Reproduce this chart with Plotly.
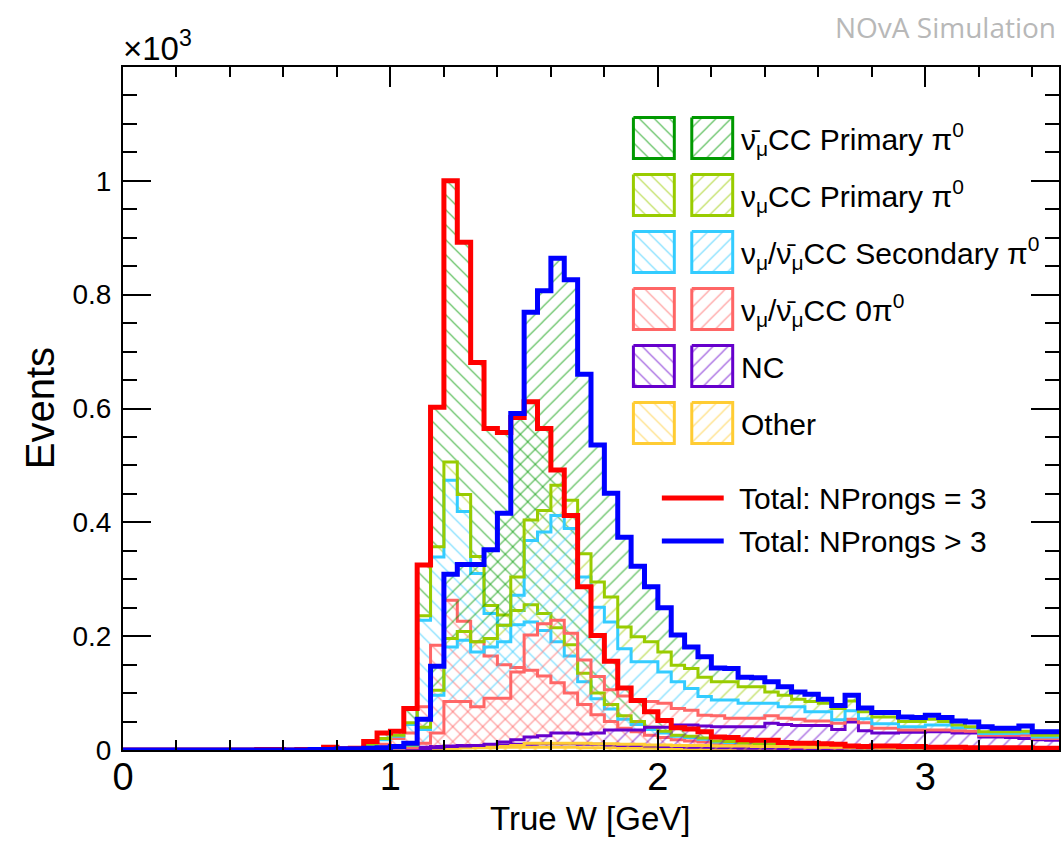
import numpy as np
import plotly.graph_objects as go

# ---------------- data: events per 0.05 GeV bin of true W (0 - 3.5 GeV) ----------------
bin_edges = np.linspace(0.0, 3.5, 71)

# ---- NProngs = 3 sample (drawn with "\\" hatching) ----
other3 = [0]*10 + [0,0,0,0,0,0,0,0,0,1] + [1,2,2,3,3,4,4,4,5,5] + [5,5,5,5,4,4,4,3,3,3] + \
         [3,2,2,2,2,2,1,1,1,1] + [1,1,1,1,1,0,0,0,0,0] + [0]*10
nc3 = [0]*10 + [0,0,0,0,0,1,0,1,1,1] + [2,2,3,3,4,4,4,5,4,5] + [5,6,6,6,6,6,5,5,5,4] + \
      [3,4,3,3,2,2,2,2,2,1] + [1,1,1,1,0,1,1,1,1,1] + [1,1,1,1,1,1,1,1,0,0]
zero3 = [0]*10 + [1,1,0,1,1,1,1,0,4,8] + [17,26,71,178,256,218,182,156,141,135] + \
        [130,119,107,89,70,52,41,30,24,19] + [16,12,11,9,7,6,5,5,4,4] + \
        [3,3,3,2,2,2,2,2,2,2] + [1,1,1,1,1,1,1,1,1,1]
sec3 = [0]*10 + [0,0,0,0,0,1,1,1,4,8] + [4,15,152,155,211,193,120,75,69,75] + \
       [85,80,72,65,40,28,22,16,13,10] + [8,6,6,5,3,3,3,2,3,1] + \
       [2,2,1,2,1,1,1,1,1,1] + [1,1,1,1,1,1,1,1,1,1]
nuprim3 = [0]*10 + [0,0,0,0,0,0,0,0,1,2] + [2,3,8,18,32,30,30,14,18,25] + \
          [30,30,25,20,15,10,8,6,5,4] + [3,2,2,2,2,2,1,1,1,1] + \
          [1,1,1,1,1,0,1,1,0,0] + [1,1,1,0,0,0,0,0,0,0]
antiprim3 = [0]*10 + [0,0,0,0,0,2,0,1,5,10] + [7,25,89,245,494,443,341,311,321,339] + \
            [357,325,277,227,152,101,76,49,37,27] + [19,13,13,11,7,7,6,6,6,5] + \
            [4,4,4,3,2,2,2,2,2,2] + [1,1,1,1,1,1,1,1,1,1]

# ---- NProngs > 3 sample (drawn with "//" hatching) ----
other4 = [0]*10 + [0]*10 + [0,0,1,2,3,4,5,6,6,8] + [12,12,12,12,12,11,11,10,10,9] + \
         [9,8,8,8,7,7,7,6,6,6] + [6,5,5,5,5,5,4,4,4,4] + [4,4,3,3,3,3,3,3,2,2]
nc4 = [0]*10 + [0,0,0,0,0,0,0,0,0,1] + [1,1,1,2,3,3,3,4,8,10] + [11,13,18,18,16,19,24,25,25,31] + \
      [31,36,36,34,34,34,34,35,41,39] + [37,38,38,31,44,29,26,26,27,27] + \
      [28,28,27,27,20,20,19,17,16,15]
zero4 = [0]*10 + [0,0,0,0,1,1,1,1,1,1] + [2,3,10,26,79,78,68,81,77,119] + \
        [179,197,198,175,130,99,71,60,53,45] + [42,29,26,19,19,15,15,15,13,11] + \
        [11,8,8,11,5,14,8,8,4,4] + [3,3,4,3,3,3,4,6,2,3]
sec4 = [0]*10 + [0,0,0,0,0,0,1,1,1,1] + [1,4,24,66,96,108,96,90,99,135] + \
       [166,161,184,184,146,122,119,83,67,70] + [55,47,38,33,28,32,26,26,22,20] + \
       [22,16,16,6,15,7,8,8,6,6] + [9,9,5,6,3,3,3,4,3,3]
nuprim4 = [0]*10 + [0]*10 + [1,1,4,9,15,15,18,15,29,32] + [36,38,53,50,41,44,44,38,44,35] + \
          [35,29,35,34,32,32,29,29,20,20] + [13,18,15,20,17,12,12,12,9,9] + \
          [10,6,5,2,3,3,3,3,3,3]
antiprim4 = [0]*10 + [0,0,0,0,0,0,0,0,1,1] + [1,3,14,42,113,118,136,156,197,287] + \
            [365,386,399,387,315,241,182,158,124,97] + [78,53,38,36,24,23,17,16,18,15] + \
            [13,13,7,5,10,7,8,8,8,7] + [7,7,7,8,9,6,6,9,6,6]

# component names, bottom -> top of each stack
categories = ["Other", "NC", "CC 0pi0", "CC Secondary pi0", "numu CC Primary pi0", "numubar CC Primary pi0"]
comp_colors = ["#ffcc33", "#6600cc", "#ff6666", "#33ccff", "#99cc00", "#009900"]

legend_labels = [
    "ν\u0304<sub>μ</sub>CC Primary π<sup>0</sup>",
    "ν<sub>μ</sub>CC Primary π<sup>0</sup>",
    "ν<sub>μ</sub>/ν\u0304<sub>μ</sub>CC Secondary π<sup>0</sup>",
    "ν<sub>μ</sub>/ν\u0304<sub>μ</sub>CC 0π<sup>0</sup>",
    "NC",
    "Other",
]
total_labels = ["Total: NProngs = 3", "Total: NProngs > 3"]
y_tickvals = [0, 200, 400, 600, 800, 1000]
y_ticktext = ["0", "0.2", "0.4", "0.6", "0.8", "1"]
x_tickvals = [0, 1, 2, 3]

FONT = "Liberation Sans, Arial, Helvetica, sans-serif"

stacks = [
    dict(comps=[other3, nc3, zero3, sec3, nuprim3, antiprim3], hatch="\\", total_color="#ff0000"),
    dict(comps=[other4, nc4, zero4, sec4, nuprim4, antiprim4], hatch="/", total_color="#0000ff"),
]


def step_y(v):
    v = np.asarray(v, dtype=float)
    return np.append(v, v[-1])


def pattern(shape, color):
    return dict(shape=shape, fgcolor=color, bgcolor="rgba(0,0,0,0)", size=10.6,
                solidity=0.12, fgopacity=0.6, fillmode="replace")


fig = go.Figure()

for st in stacks:
    levels = np.cumsum(np.array(st["comps"], dtype=float), axis=0)
    n = len(levels)
    for k, lev in enumerate(levels):
        top = k == n - 1
        fig.add_trace(go.Scatter(
            x=bin_edges, y=step_y(lev), mode="lines",
            line=dict(shape="hv", color=comp_colors[k], width=0 if top else 3),
            fill="tozeroy" if k == 0 else "tonexty",
            fillcolor="rgba(0,0,0,0)",
            fillpattern=pattern(st["hatch"], comp_colors[k]),
            hoverinfo="skip", showlegend=False))

for st in stacks:
    total = np.sum(np.array(st["comps"], dtype=float), axis=0)
    fig.add_trace(go.Scatter(
        x=bin_edges, y=step_y(total), mode="lines",
        line=dict(shape="hv", color=st["total_color"], width=5),
        hoverinfo="skip", showlegend=False))

# ---------------- hand-made ROOT style legend (pixel coordinates on an overlay axis) ----------------
PL, PR, PT, PB = 123, 1061, 67, 750
leg_top, leg_gap, box_h, box_w = 117.5, 57.0, 41.0, 41.0
box_x = [634.5, 693.0]
text_x = 740
annotations = []
for r in range(6):
    ci = 5 - r
    y0 = leg_top + r * leg_gap
    y1 = y0 + box_h
    for j, hatch in enumerate(["\\", "/"]):
        x0 = box_x[j]
        x1 = x0 + box_w
        fig.add_trace(go.Scatter(
            x=[x0, x1, x1, x0, x0], y=[y0, y0, y1, y1, y0], xaxis="x2", yaxis="y2",
            mode="lines", fill="toself", fillcolor="rgba(0,0,0,0)",
            line=dict(color=comp_colors[ci], width=3),
            fillpattern=pattern(hatch, comp_colors[ci]),
            hoverinfo="skip", showlegend=False))
    annotations.append(dict(x=text_x, y=(y0 + y1) / 2 + 1, xref="x2", yref="y2",
                            text=legend_labels[r], showarrow=False,
                            xanchor="left", yanchor="middle",
                            font=dict(size=30, family=FONT, color="black")))

tot_y = [498, 541]
for i, st in enumerate(stacks):
    fig.add_trace(go.Scatter(
        x=[663, 725], y=[tot_y[i], tot_y[i]], xaxis="x2", yaxis="y2", mode="lines",
        line=dict(color=st["total_color"], width=5), hoverinfo="skip", showlegend=False))
    annotations.append(dict(x=738, y=tot_y[i], xref="x2", yref="y2", text=total_labels[i],
                            showarrow=False, xanchor="left", yanchor="middle",
                            font=dict(size=30, family=FONT, color="black")))


def paper(px, py):
    return (px - PL) / (PR - PL), (PB - py) / (PB - PT)


for txt, (px, py), kw in [
    ("×10<sup>3</sup>", (121, 46), dict(xanchor="left", yanchor="middle", font=dict(size=33, family=FONT))),
    ("Events", (40, 408), dict(xanchor="center", yanchor="middle", textangle=-90, font=dict(size=40, family=FONT))),
    ("True W [GeV]", (591, 818), dict(xanchor="center", yanchor="middle", font=dict(size=33, family=FONT))),
    ("NOvA Simulation", (1060, 27), dict(xanchor="right", yanchor="middle",
                                         font=dict(size=28, family="Open Sans, sans-serif", color="#b8b8b8"))),
]:
    xp, yp = paper(px, py)
    annotations.append(dict(x=xp, y=yp, xref="paper", yref="paper", text=txt, showarrow=False, **kw))

axis_common = dict(showline=True, linecolor="black", linewidth=2, mirror="ticks", ticks="inside",
                   tickcolor="black", tickwidth=2, showgrid=False, zeroline=False)

fig.update_layout(
    width=1061, height=841,
    margin=dict(l=PL, r=1061 - PR, t=PT, b=841 - PB, pad=0),
    paper_bgcolor="white", plot_bgcolor="white",
    font=dict(family=FONT, color="black"),
    showlegend=False,
    annotations=annotations,
    xaxis=dict(range=[0, 3.5], tickvals=x_tickvals, ticklen=20,
               tickfont=dict(size=38, family=FONT), ticklabelstandoff=-8,
               minor=dict(dtick=0.2, tick0=0, ticks="inside", ticklen=10, tickwidth=2, tickcolor="black"),
               **axis_common),
    yaxis=dict(range=[0, 1200], tickvals=y_tickvals, ticktext=y_ticktext, ticklen=28,
               tickfont=dict(size=28, family=FONT), ticklabelstandoff=4,
               minor=dict(dtick=50, tick0=0, ticks="inside", ticklen=14, tickwidth=2, tickcolor="black"),
               **axis_common),
    xaxis2=dict(range=[PL, PR], overlaying="x", anchor="y2", visible=False, showgrid=False, zeroline=False),
    yaxis2=dict(range=[PB, PT], overlaying="y", anchor="x2", visible=False, showgrid=False, zeroline=False),
)

fig.write_html("out.html")
